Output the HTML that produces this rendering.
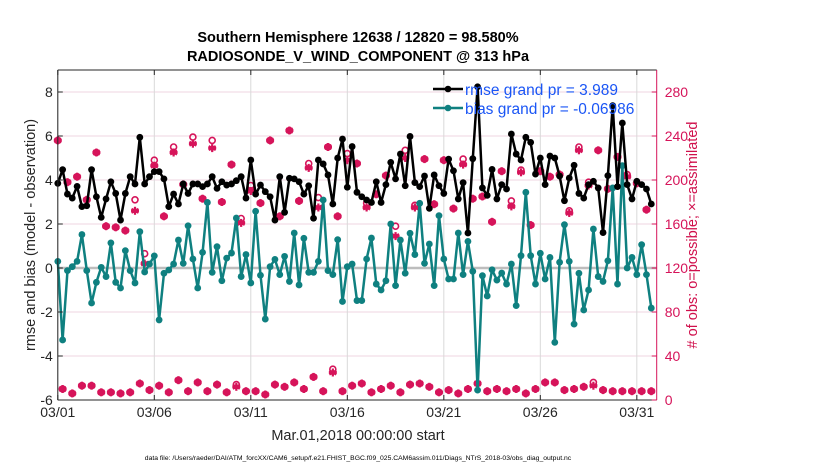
<!DOCTYPE html>
<html><head><meta charset="utf-8"><style>
html,body{margin:0;padding:0;background:#fff;}
svg{display:block;font-family:"Liberation Sans",sans-serif;}
</style></head><body>
<svg id="chart" width="830" height="470" viewBox="0 0 830 470" xmlns="http://www.w3.org/2000/svg">
<g id="grid"></g>
<g id="series"></g>
<g id="axes"></g>
<text x="358" y="42" text-anchor="middle" font-size="14.5" font-weight="bold" fill="#000">Southern Hemisphere 12638 / 12820 = 98.580%</text>
<text x="358" y="61" text-anchor="middle" font-size="14.5" font-weight="bold" fill="#000">RADIOSONDE_V_WIND_COMPONENT @ 313 hPa</text>
<text transform="translate(35,235) rotate(-90)" text-anchor="middle" font-size="14.5" fill="#262626">rmse and bias (model - observation)</text>
<text transform="translate(697,235) rotate(-90)" text-anchor="middle" font-size="14.5" fill="#d0104c"># of obs: o=possible; ×=assimilated</text>
<text x="358" y="440" text-anchor="middle" font-size="14.5" fill="#262626">Mar.01,2018 00:00:00 start</text>
<text x="358" y="460" text-anchor="middle" font-size="6.8" fill="#000">data file: /Users/raeder/DAI/ATM_forcXX/CAM6_setup/f.e21.FHIST_BGC.f09_025.CAM6assim.011/Diags_NTrS_2018-03/obs_diag_output.nc</text>
<g>
 <line x1="433" y1="89" x2="463" y2="89" stroke="#000" stroke-width="2.5"/>
 <circle cx="448" cy="89" r="3.3" fill="#000"/>
 <text x="465" y="95" font-size="15.5" fill="#1a55f5">rmse grand pr = 3.989</text>
 <line x1="433" y1="108" x2="463" y2="108" stroke="#0f8080" stroke-width="2.5"/>
 <circle cx="448" cy="108" r="3.3" fill="#0f8080"/>
 <text x="465" y="114" font-size="15.5" fill="#1a55f5">bias grand pr = -0.06986</text>
</g>
</svg>
<script>
const rmse=[3.85,4.47,3.36,3.18,3.71,2.79,2.83,4.47,3.24,2.3,3.14,3.92,3.39,2.18,3.39,4.15,3.82,5.94,3.82,4.15,4.38,4.38,4.05,2.79,3.36,2.91,3.82,3.39,3.82,3.82,3.7,3.82,
4.15,3.62,3.92,3.77,3.82,3.97,4.15,3.18,4.91,3.36,3.77,3.47,3.24,2.18,4.15,2.53,4.08,4.05,3.92,3.36,3.74,2.26,4.91,4.73,4.23,2.91,5.0,5.86,3.67,5.52,
3.44,3.24,3.09,2.98,3.92,2.98,3.79,4.8,4.05,5.18,3.74,5.98,3.88,3.7,4.18,2.71,4.23,3.74,3.39,4.95,4.42,3.14,3.88,1.59,4.97,8.24,3.64,3.3,4.48,3.14,3.79,3.59,
6.09,5.18,4.91,5.94,5.71,4.27,5.0,3.79,5.09,5.0,4.18,3.06,4.09,4.67,3.39,3.18,3.79,3.94,3.64,1.61,4.2,7.38,3.7,6.59,3.79,3.14,3.94,3.79,3.59,2.91];
const bias=[0.3,-3.27,-0.12,0.06,0.3,1.52,-0.12,-1.59,-0.65,0.03,-0.39,1.14,-0.65,-0.91,0.79,-0.12,-0.68,1.65,-0.18,0.18,0.55,-2.36,-0.24,-0.09,0.18,1.27,0.21,1.92,0.41,-0.91,0.71,2.98,
-0.2,0.97,-0.58,0.45,0.68,2.27,-0.39,0.61,-0.68,2.58,-0.33,-2.32,0.06,0.39,-0.3,0.53,-0.61,1.59,-0.77,1.35,-0.2,-0.2,0.3,3.09,-0.12,-0.3,1.29,-1.52,0.06,0.18,-1.48,
-1.48,0.41,1.36,-0.73,-1.0,-0.58,2.0,-0.8,1.27,-0.24,1.58,0.61,2.94,0.21,1.09,-0.8,2.38,0.41,-0.5,-0.5,1.59,-0.3,1.21,-0.15,-5.55,-0.35,-1.27,-0.08,-0.55,-0.23,-0.73,
0.18,-1.71,0.56,3.44,0.56,-0.73,0.67,-0.5,0.48,-3.38,0.26,1.97,0.3,-2.55,-0.24,-1.91,-1.0,1.77,-0.39,-0.61,0.33,3.64,-0.73,4.65,0.0,0.48,-0.3,1.06,-0.3,-1.82];
const assimHigh=[236,198,203,182,225,158,157,154,172,124,213,167,225,196,233,183,
229,180,214,161,190,179,236,167,245,181,211,175,230,167,218,215,
175,187,204,149,220,175,219,178,218,174,214,183,185,162,208,
176,207,159,208,203,205,170,227,195,227,192,221,203,197,173];
const possHigh=[236,198,203,182,225,158,157,154,182,133,218,167,230,196,239,183,
236,180,214,165,195,179,236,167,245,181,215,184,230,167,224,215,
179,187,204,158,227,177,219,178,218,174,219,183,185,162,208,
181,209,159,208,203,205,172,230,198,227,192,221,205,197,173];
const assimLow=[10,6,13,13,7,7,6,7,15,9,13,7,18,8,16,8,
14,7,12,8,8,5,14,12,16,10,21,8,25,8,13,
15,7,10,13,7,14,15,12,7,9,6,10,15,8,10,8,
10,6,10,16,16,9,10,12,13,9,8,8,8,8,8];
const possLow=[10,6,13,13,7,7,6,7,15,9,13,7,18,8,16,8,
14,7,14,8,8,5,14,12,16,10,21,8,28,8,13,
15,7,10,13,7,14,15,12,7,9,6,10,15,8,10,8,
10,6,10,16,16,9,10,12,16,9,8,8,8,8,8];
const xTickLabels=["03/01","03/06","03/11","03/16","03/21","03/26","03/31"];
const xTickDays=[0,5,10,15,20,25,30];
const yTicksLeft=[-6,-4,-2,0,2,4,6,8];
const yTicksRight=[0,40,80,120,160,200,240,280];

const NS="http://www.w3.org/2000/svg";
const X0=57.8,X1=656.7,Y0=70,Y1=400;
const xDay=d=>X0+(X1-X0)*d/31.03;
const xIdx=i=>xDay(i*0.25);
const yL=v=>Y1-(v+6)*(Y1-Y0)/15;
const yR=r=>yL(r/20-6);
function mk(tag,attrs,parent){const e=document.createElementNS(NS,tag);for(const k in attrs)e.setAttribute(k,attrs[k]);parent.appendChild(e);return e;}
const grid=document.getElementById('grid'),ser=document.getElementById('series'),ax=document.getElementById('axes');
const CR="#d6145a";
yTicksLeft.forEach(v=>{const l=mk('line',{x1:X0,x2:X1,y1:yL(v),y2:yL(v),stroke:'#efd6e0','stroke-width':1},grid);

});
xTickDays.forEach(d=>{const l=mk('line',{x1:xDay(d),x2:xDay(d),y1:Y0,y2:Y1,stroke:'#d9d9d9','stroke-width':1},grid);

});
const zl=mk('line',{x1:X0,x2:X1,y1:yL(0),y2:yL(0),stroke:'#bdbdbd','stroke-width':2.5},grid);


function star(cx,cy,g){const s=4;[[0,-s,0,s],[-s*0.87,-s*0.5,s*0.87,s*0.5],[-s*0.87,s*0.5,s*0.87,-s*0.5],[-s,0,s,0]].forEach(a=>mk('line',{x1:cx+a[0],y1:cy+a[1],x2:cx+a[2],y2:cy+a[3],stroke:CR,'stroke-width':2.2},g));
mk('circle',{cx:cx,cy:cy,r:2.6,fill:CR},g);}
for(let i=0;i<124;i++){
 const k=i>>1;const hi=i%2===0;
 const a=hi?assimHigh[k]:assimLow[k];const p=hi?possHigh[k]:possLow[k];
 if(a===undefined)continue;
 const g=mk('g',{},ser);
 
 
 const cx=xIdx(i);
 mk('circle',{cx:cx,cy:yR(p),r:3,fill:'none',stroke:CR,'stroke-width':1.6},g);
 star(cx,yR(a),g);
}
function series(vals,color,name){
 const pts=vals.map((v,i)=>xIdx(i).toFixed(1)+','+yL(v).toFixed(1)).join(' ');
 const pl=mk('polyline',{points:pts,fill:'none',stroke:color,'stroke-width':2.5,'stroke-linejoin':'round'},ser);
 
 
 vals.forEach((v,i)=>{const c=mk('circle',{cx:xIdx(i),cy:yL(v),r:3.4,fill:color},ser);
 
 });
}
series(bias,'#0f8080','bias');
series(rmse,'#000','rmse');
const fr=[[X0,Y0,X0,Y1,'#262626'],[X0,Y1,X1,Y1,'#262626'],[X0,Y0,X1,Y0,'#262626'],[X1,Y0,X1,Y1,CR]];
fr.forEach(f=>{const l=mk('line',{x1:f[0],y1:f[1],x2:f[2],y2:f[3],stroke:f[4],'stroke-width':1},ax);

});
yTicksLeft.forEach(v=>{mk('line',{x1:X0,x2:X0+5,y1:yL(v),y2:yL(v),stroke:'#262626'},ax);
const t=mk('text',{x:X0-5,y:yL(v)+5,'text-anchor':'end','font-size':14,fill:'#262626'},ax);t.textContent=v;

});
yTicksRight.forEach(r=>{mk('line',{x1:X1-5,x2:X1,y1:yR(r),y2:yR(r),stroke:CR},ax);
const t=mk('text',{x:X1+8,y:yR(r)+5,'font-size':14,fill:CR},ax);t.textContent=r;

});
xTickDays.forEach((d,j)=>{mk('line',{x1:xDay(d),x2:xDay(d),y1:Y1,y2:Y1-5,stroke:'#262626'},ax);mk('line',{x1:xDay(d),x2:xDay(d),y1:Y0,y2:Y0+5,stroke:'#262626'},ax);
const t=mk('text',{x:xDay(d),y:Y1+17,'text-anchor':'middle','font-size':14,fill:'#262626'},ax);t.textContent=xTickLabels[j];

});
</script>
</body></html>
